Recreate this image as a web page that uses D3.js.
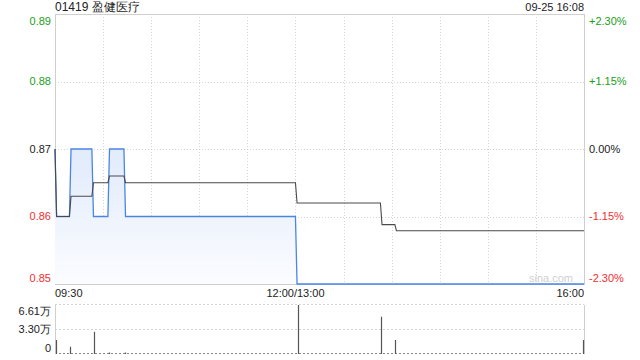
<!DOCTYPE html>
<html>
<head>
<meta charset="utf-8">
<script src="https://cdn.jsdelivr.net/npm/d3@7"></script>
<style>
    body { margin: 0; background: #fff; }
    svg { font-family: "Liberation Sans", Arial, sans-serif; }
</style>
</head>
<body>
<div id="chart"></div>
<script>
const title = '01419 盈健医疗';
const stamp = '09-25 16:08';
const prevClose = 0.87;

// price line, change points
const priceTimes = ['09:30', '09:31', '09:39', '09:40', '09:53', '09:54', '10:03', '10:04', '10:13', '10:14', '13:00', '13:01', '16:00'];
const priceValues = [0.87, 0.86, 0.86, 0.87, 0.87, 0.86, 0.86, 0.87, 0.87, 0.86, 0.86, 0.85, 0.85];

// average line, change points
const avgTimes = ['09:30', '09:31', '09:39', '09:40', '09:53', '09:54', '10:03', '10:04', '10:13', '10:14', '13:00', '13:01', '13:53', '13:54', '14:02', '14:03', '16:00'];
const avgValues = [0.87, 0.86, 0.86, 0.863, 0.863, 0.865, 0.865, 0.866, 0.866, 0.865, 0.865, 0.862, 0.862, 0.8588, 0.8588, 0.8579, 0.8579];

// volume bars (万)
const volTimes = ['09:31', '09:40', '09:55', '10:04', '10:14', '13:02', '13:54', '14:03', '16:00'];
const volValues = [1.89, 0.98, 3.0, 0.2, 0.2, 6.61, 5.03, 1.89, 1.89];

const priceTicks = [0.85, 0.86, 0.87, 0.88, 0.89];
const pctTicks = ['-2.30%', '-1.15%', '0.00%', '+1.15%', '+2.30%'];
const volTicks = [0, 3.30, 6.61];
const volTickLabels = ['0', '3.30万', '6.61万'];
const gridTimes = ['10:00', '10:30', '11:00', '11:30', '12:00', '13:30', '14:00', '14:30', '15:00', '15:30'];

const W = 640, H = 360;
const left = 55, right = 584;
const mainTop = 14, mainBottom = 284;
const volTop = 305, volBottom = 354;

const GREEN = '#1a9e1a', RED = '#f03030', DARK = '#222';

// minutes from 09:30, lunch break squeezed out
function toIndex(t) {
    const [hh, mm] = t.split(':').map(Number);
    const m = hh * 60 + mm;
    if (m <= 12 * 60) return m - (9 * 60 + 30);
    return 150 + (m - 13 * 60);
}

const x = d3.scaleLinear().domain([0, 330]).range([left, right]);
const y = d3.scaleLinear().domain([0.85, 0.89]).range([mainBottom, mainTop]);
const yv = d3.scaleLinear().domain([0, 6.61]).range([volBottom, volTop]);

const svg = d3.select('#chart')
    .append('svg')
    .attr('width', W)
    .attr('height', H);

const defs = svg.append('defs');
const grad = defs.append('linearGradient')
    .attr('id', 'fillGrad')
    .attr('gradientUnits', 'userSpaceOnUse')
    .attr('x1', 0).attr('x2', 0)
    .attr('y1', y(0.87)).attr('y2', mainBottom);
grad.append('stop').attr('offset', '0%').attr('stop-color', '#e1ebfb');
grad.append('stop').attr('offset', '100%').attr('stop-color', '#fbfcff');

// frame of main chart
svg.append('rect')
    .attr('x', left + 0.5)
    .attr('y', mainTop + 0.5)
    .attr('width', right - left)
    .attr('height', mainBottom - mainTop)
    .attr('fill', 'none')
    .attr('stroke', '#cfcfcf');

// grid
svg.append('g')
    .selectAll('line')
    .data(gridTimes)
    .join('line')
    .attr('x1', d => Math.round(x(toIndex(d))) + 0.5)
    .attr('x2', d => Math.round(x(toIndex(d))) + 0.5)
    .attr('y1', mainTop)
    .attr('y2', mainBottom)
    .attr('stroke', '#d4d4d4')
    .attr('stroke-dasharray', '1,2');

svg.append('g')
    .selectAll('line')
    .data([0.86, 0.87, 0.88])
    .join('line')
    .attr('x1', left)
    .attr('x2', right)
    .attr('y1', d => Math.round(y(d)) + 0.5)
    .attr('y2', d => Math.round(y(d)) + 0.5)
    .attr('stroke', '#d4d4d4')
    .attr('stroke-dasharray', '1,2');

// price area + line
const pricePts = priceTimes.map((t, i) => [toIndex(t), priceValues[i]]);
const avgPts = avgTimes.map((t, i) => [toIndex(t), avgValues[i]]);

svg.append('path')
    .datum(pricePts)
    .attr('fill', 'url(#fillGrad)')
    .attr('d', d3.area()
        .x(d => x(d[0]))
        .y0(mainBottom)
        .y1(d => y(d[1]))
    );

svg.append('path')
    .datum(pricePts)
    .attr('fill', 'none')
    .attr('stroke', '#4b85e6')
    .attr('stroke-width', 1.3)
    .attr('d', d3.line()
        .x(d => x(d[0]))
        .y(d => y(d[1]))
    );

svg.append('path')
    .datum(avgPts)
    .attr('fill', 'none')
    .attr('stroke', '#4a4a4a')
    .attr('stroke-width', 1.1)
    .attr('d', d3.line()
        .x(d => x(d[0]))
        .y(d => y(d[1]))
    );

// watermark
svg.append('text')
    .attr('x', 573)
    .attr('y', 282)
    .attr('text-anchor', 'end')
    .attr('font-size', 11)
    .attr('fill', '#d0d0d0')
    .text('sina.com');

// left / right price labels
const tickColor = v => v > prevClose + 1e-9 ? GREEN : (v < prevClose - 1e-9 ? RED : DARK);
const labelY = v => Math.max(21, Math.min(278, y(v)));

svg.append('g')
    .selectAll('text')
    .data(priceTicks)
    .join('text')
    .attr('x', 51)
    .attr('y', d => labelY(d))
    .attr('dy', '0.35em')
    .attr('text-anchor', 'end')
    .attr('font-size', 11)
    .attr('fill', d => tickColor(d))
    .text(d => d.toFixed(2));

svg.append('g')
    .selectAll('text')
    .data(priceTicks)
    .join('text')
    .attr('x', 589)
    .attr('y', d => labelY(d))
    .attr('dy', '0.35em')
    .attr('font-size', 11)
    .attr('fill', d => tickColor(d))
    .text((d, i) => pctTicks[i]);

// title + time stamp
svg.append('text')
    .attr('x', 55)
    .attr('y', 11)
    .attr('font-size', 12)
    .attr('fill', DARK)
    .text(title);

svg.append('text')
    .attr('x', 584)
    .attr('y', 11)
    .attr('text-anchor', 'end')
    .attr('font-size', 11)
    .attr('fill', DARK)
    .text(stamp);

// x labels
const xLabels = [
    { t: 0, text: '09:30', anchor: 'start' },
    { t: 150, text: '12:00/13:00', anchor: 'middle' },
    { t: 330, text: '16:00', anchor: 'end' }
];
svg.append('g')
    .selectAll('text')
    .data(xLabels)
    .join('text')
    .attr('x', d => x(d.t))
    .attr('y', 297)
    .attr('text-anchor', d => d.anchor)
    .attr('font-size', 11)
    .attr('fill', DARK)
    .text(d => d.text);

// volume panel
svg.append('g')
    .selectAll('line')
    .data(volTicks)
    .join('line')
    .attr('x1', left)
    .attr('x2', right)
    .attr('y1', d => Math.round(yv(d)) - 0.5)
    .attr('y2', d => Math.round(yv(d)) - 0.5)
    .attr('stroke', d => d === 0 ? '#888' : '#d4d4d4')
    .attr('stroke-dasharray', '2,2');

svg.append('g')
    .selectAll('line')
    .data([left, right])
    .join('line')
    .attr('x1', d => d + 0.5)
    .attr('x2', d => d + 0.5)
    .attr('y1', volTop)
    .attr('y2', volBottom)
    .attr('stroke', '#cfcfcf');

svg.append('g')
    .selectAll('line')
    .data(volTimes)
    .join('line')
    .attr('x1', (d, i) => Math.round(x(toIndex(d))) - 0.5)
    .attr('x2', (d, i) => Math.round(x(toIndex(d))) - 0.5)
    .attr('y1', volBottom)
    .attr('y2', (d, i) => yv(volValues[i]))
    .attr('stroke', '#555')
    .attr('stroke-width', 1.2);

svg.append('g')
    .selectAll('text')
    .data(volTicks)
    .join('text')
    .attr('x', 51)
    .attr('y', (d, i) => [348, 329, 311][i])
    .attr('dy', '0.35em')
    .attr('text-anchor', 'end')
    .attr('font-size', 11)
    .attr('fill', DARK)
    .text((d, i) => volTickLabels[i]);
</script>
</body>
</html>
